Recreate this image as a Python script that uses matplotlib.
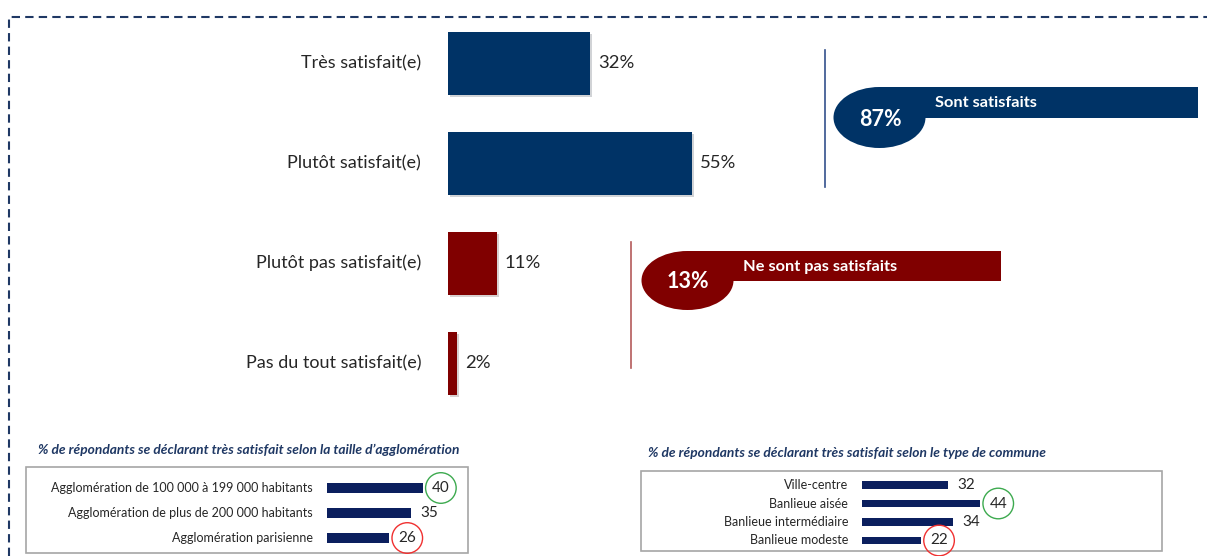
import matplotlib.pyplot as plt
import matplotlib.patheffects as pe
from matplotlib.patches import Ellipse, Rectangle

plt.rcParams['font.family'] = ['Lato', 'DejaVu Sans']

W, H = 1207, 556

# main question
categories = ["Très satisfait(e)", "Plutôt satisfait(e)",
              "Plutôt pas satisfait(e)", "Pas du tout satisfait(e)"]
values = [32, 55, 11, 2]

# very satisfied, by size of agglomeration
agglo_title = "% de répondants se déclarant très satisfait selon la taille d’agglomération"
agglo_labels = ["Agglomération de 100 000 à 199 000 habitants",
                "Agglomération de plus de 200 000 habitants",
                "Agglomération parisienne"]
agglo_values = [40, 35, 26]

# very satisfied, by type of commune
commune_title = "% de répondants se déclarant très satisfait selon le type de commune"
commune_labels = ["Ville-centre", "Banlieue aisée",
                  "Banlieue intermédiaire", "Banlieue modeste"]
commune_values = [32, 44, 34, 22]

NAVY = "#003366"
RED = "#800000"
SMALL_NAVY = "#0B1F5E"
TITLE_NAVY = "#1F3864"
TEXT = "#262626"
GREEN_RING = "#3DAA4F"
RED_RING = "#F03030"

fig = plt.figure(figsize=(W / 100, H / 100), dpi=100)


def px_axes(x0, y0, x1, y1):
    # axes placed with pixel coords measured from the top-left corner
    return fig.add_axes([x0 / W, 1 - y1 / H, (x1 - x0) / W, (y1 - y0) / H])


# overlay for frame, lines, callouts and boxes
ov = px_axes(0, 0, W, H)
ov.set_xlim(0, W)
ov.set_ylim(H, 0)
ov.axis("off")

ov.plot([9, 9, W], [H, 17, 17], color=TITLE_NAVY, lw=1.5,
        ls=(0, (4, 2.5)), solid_joinstyle="miter")

# satisfied callout
ov.plot([825, 825], [50, 187], color="#34508C", lw=1.2)
ov.add_patch(Ellipse((879.5, 117.5), 92, 61, color=NAVY, lw=0))
ov.add_patch(Rectangle((879.5, 87), 1198 - 879.5, 31, color=NAVY, lw=0))
ov.text(880, 119, f"{values[0] + values[1]}%", color="white", fontsize=15.5,
        fontweight="bold", ha="center", va="center")
ov.text(935, 103, "Sont satisfaits", color="white", fontsize=11.8,
        fontweight="bold", ha="left", va="center")

# not satisfied callout
ov.plot([631, 631], [242, 368], color="#B45A5A", lw=1.2)
ov.add_patch(Ellipse((687.5, 280.5), 92, 59, color=RED, lw=0))
ov.add_patch(Rectangle((687.5, 251), 1001 - 687.5, 30, color=RED, lw=0))
ov.text(688, 282, f"{values[2] + values[3]}%", color="white", fontsize=15.5,
        fontweight="bold", ha="center", va="center")
ov.text(743, 267, "Ne sont pas satisfaits", color="white", fontsize=11.8,
        fontweight="bold", ha="left", va="center")

# small panels: titles and boxes
ov.text(38, 450, agglo_title, color=TITLE_NAVY, fontsize=9.9,
        fontweight="bold", style="italic", ha="left", va="center")
ov.add_patch(Rectangle((26, 467), 442, 86, fill=False, ec="#A6A6A6", lw=1.2))
ov.text(648, 453, commune_title, color=TITLE_NAVY, fontsize=9.9,
        fontweight="bold", style="italic", ha="left", va="center")
ov.add_patch(Rectangle((641, 471), 521, 80, fill=False, ec="#A6A6A6", lw=1.2))

# main bars
ax = px_axes(448, 13, 892, 413)
colors = [NAVY, NAVY, RED, RED]
bars = ax.barh(range(len(values)), values, height=0.63, color=colors)
for b in bars:
    b.set_path_effects([pe.SimplePatchShadow(offset=(1.5, -1.5), alpha=0.18),
                        pe.Normal()])
ax.set_xlim(0, 100)
ax.set_ylim(len(values) - 0.5, -0.5)
ax.axis("off")
for i, (c, v) in enumerate(zip(categories, values)):
    ax.annotate(c, (0, i), xytext=(-27, 0), textcoords="offset pixels",
                ha="right", va="center", fontsize=13, color=TEXT)
    ax.annotate(f"{v}%", (v, i), xytext=(8, 0), textcoords="offset pixels",
                ha="left", va="center", fontsize=13.3, color=TEXT)


def small_chart(ax, labels, vals, bar_h):
    ax.barh(range(len(vals)), vals, height=bar_h, color=SMALL_NAVY)
    ax.set_xlim(0, 50)
    ax.set_ylim(len(vals) - 0.5, -0.5)
    ax.axis("off")
    for i, (c, v) in enumerate(zip(labels, vals)):
        ax.annotate(c, (0, i), xytext=(-14, 0), textcoords="offset pixels",
                    ha="right", va="center", fontsize=9, color=TEXT)
        ring = None
        if v == max(vals):
            ring = dict(boxstyle="circle,pad=0.42", fc="none", ec=GREEN_RING, lw=1)
        elif v == min(vals):
            ring = dict(boxstyle="circle,pad=0.42", fc="none", ec=RED_RING, lw=1)
        ax.annotate(str(v), (v, i), xytext=(9, 0), textcoords="offset pixels",
                    ha="left", va="center", fontsize=11, color=TEXT, bbox=ring)


small_chart(px_axes(327, 475.5, 447, 550.5), agglo_labels, agglo_values, 0.42)
small_chart(px_axes(862, 475.75, 996.5, 549.75), commune_labels, commune_values, 0.4)

fig.savefig("out.png", dpi=100)
